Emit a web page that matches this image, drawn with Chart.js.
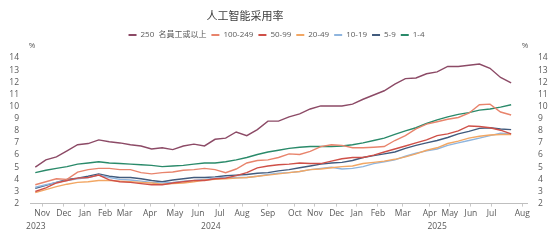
<!DOCTYPE html>
<html>
<head>
<meta charset="utf-8">
<script src="https://cdn.jsdelivr.net/npm/chart.js@4.4.1/dist/chart.umd.min.js"></script>
<style>
  html, body { margin: 0; padding: 0; background: #fff; }
</style>
</head>
<body>
<canvas id="aiChart" width="553" height="243"></canvas>
<script>
/* ================= DATA ================= */
// survey periods, in weeks counted from the left edge of the axis
const surveyWeeks = [1, 3, 5, 7, 9, 11, 13, 15, 17, 19, 21, 23, 25, 27, 29, 31, 33, 35, 37, 39,
  41, 43, 45, 47, 49, 51, 53, 55, 57, 59, 61, 63, 65, 67, 69, 71, 73, 75, 77, 79, 81, 83, 85, 87, 89, 91];

const monthLabels = ["Nov", "Dec", "Jan", "Feb", "Mar", "Apr", "May", "Jun", "Jul", "Aug", "Sep",
  "Oct", "Nov", "Dec", "Jan", "Feb", "Mar", "Apr", "May", "Jun", "Jul", "Aug"];
const monthWeeks = [2.3, 6.4, 10.4, 14.2, 17.9, 22.7, 27.4, 31.8, 35.9, 40.1, 45.0,
  50.1, 53.9, 58.0, 61.8, 65.8, 70.5, 75.6, 79.4, 83.4, 87.3, 93.1];

const yearLabels = ["2023", "2024", "2025"];
const yearWeeks = [1.1, 34.2, 77];

const seriesNames = ["250  名員工或以上", "100-249", "50-99", "20-49", "10-19", "5-9", "1-4"];

const size250 = [5.0, 5.6, 5.85, 6.35, 6.85, 6.95, 7.25, 7.1, 7.0, 6.85, 6.75, 6.5, 6.6, 6.45, 6.75, 6.9,
  6.75, 7.3, 7.4, 7.9, 7.6, 8.1, 8.8, 8.8, 9.15, 9.4, 9.8, 10.05, 10.05, 10.05, 10.2, 10.6, 10.95,
  11.3, 11.85, 12.3, 12.35, 12.7, 12.85, 13.3, 13.3, 13.4, 13.5, 13.15, 12.4, 11.95];
const size100 = [3.55, 3.8, 4.05, 4.0, 4.6, 4.8, 4.9, 4.9, 4.8, 4.8, 4.55, 4.45, 4.55, 4.6, 4.75, 4.8,
  4.9, 4.8, 4.55, 4.85, 5.35, 5.55, 5.6, 5.8, 6.1, 6.05, 6.3, 6.7, 6.85, 6.8, 6.6, 6.6, 6.65, 6.7,
  7.2, 7.6, 8.15, 8.55, 8.75, 8.95, 9.1, 9.45, 10.15, 10.2, 9.55, 9.3];
const size50 = [3.0, 3.3, 3.7, 3.9, 4.1, 4.15, 4.35, 3.95, 3.8, 3.75, 3.65, 3.55, 3.55, 3.7, 3.8, 3.9,
  3.9, 4.05, 4.1, 4.3, 4.55, 4.95, 5.1, 5.2, 5.25, 5.35, 5.3, 5.3, 5.5, 5.7, 5.8, 5.8, 6.0, 6.25,
  6.5, 6.75, 7.0, 7.25, 7.6, 7.75, 8.0, 8.4, 8.35, 8.25, 8.05, 7.75];
const size20 = [2.9, 3.15, 3.4, 3.6, 3.75, 3.8, 3.9, 3.9, 3.85, 3.8, 3.75, 3.7, 3.6, 3.65, 3.7, 3.8,
  3.95, 4.0, 4.05, 4.1, 4.15, 4.25, 4.35, 4.45, 4.55, 4.65, 4.8, 4.85, 4.95, 5.05, 5.1, 5.3, 5.4, 5.5,
  5.65, 5.85, 6.1, 6.4, 6.6, 6.95, 7.15, 7.4, 7.55, 7.65, 7.7, 7.7];
const size10 = [3.35, 3.55, 3.75, 3.9, 4.05, 4.15, 4.35, 4.15, 4.0, 3.95, 3.85, 3.75, 3.7, 3.75, 3.85, 3.9,
  4.0, 4.1, 4.15, 4.15, 4.15, 4.25, 4.4, 4.5, 4.55, 4.65, 4.8, 4.9, 5.0, 4.85, 4.9, 5.05, 5.3, 5.45,
  5.6, 5.9, 6.15, 6.35, 6.5, 6.8, 7.0, 7.2, 7.4, 7.6, 7.8, 7.75];
const size5 = [3.25, 3.5, 3.75, 4.0, 4.1, 4.25, 4.45, 4.25, 4.15, 4.15, 4.05, 3.9, 3.8, 3.95, 4.05, 4.15,
  4.15, 4.2, 4.3, 4.35, 4.4, 4.5, 4.55, 4.7, 4.8, 4.95, 5.1, 5.25, 5.35, 5.4, 5.55, 5.8, 5.95, 6.1,
  6.25, 6.55, 6.8, 7.0, 7.2, 7.45, 7.75, 7.95, 8.2, 8.25, 8.15, 8.1];
const size1 = [4.55, 4.75, 4.9, 5.05, 5.25, 5.35, 5.45, 5.35, 5.3, 5.25, 5.2, 5.15, 5.05, 5.1, 5.15, 5.25,
  5.35, 5.35, 5.45, 5.6, 5.8, 6.05, 6.25, 6.4, 6.55, 6.65, 6.7, 6.7, 6.7, 6.75, 6.85, 7.0, 7.2, 7.4,
  7.7, 8.0, 8.25, 8.6, 8.9, 9.15, 9.35, 9.5, 9.7, 9.8, 9.95, 10.15];

const yTicks = { min: 2, max: 14, step: 1 };

/* ================= STYLE ================= */
const colors = ["#8c4a66", "#e8846c", "#cf5048", "#f2a764", "#8fb5de", "#415b7d", "#2a8a6a"];
const textColor = "#595959";
const fontFamily = '"Open Sans", "Noto Sans CJK SC", sans-serif';
const weekSpan = { min: 0, max: 94 };

const allSeries = [size250, size100, size50, size20, size10, size5, size1];

const datasets = allSeries.map((vals, k) => ({
  label: seriesNames[k],
  data: vals.map((v, i) => ({ x: surveyWeeks[i], y: v })),
  borderColor: colors[k],
  backgroundColor: colors[k],
  borderWidth: 1.4,
  pointRadius: 0,
  tension: 0
}));

/* ================= EXTRA TEXT (title, % units) ================= */
const extraText = {
  id: "extraText",
  afterDraw(chart) {
    const { ctx, chartArea } = chart;
    ctx.save();
    ctx.fillStyle = "#404040";
    ctx.font = '11px "Noto Sans CJK SC", sans-serif';
    ctx.textAlign = "center";
    ctx.textBaseline = "middle";
    ctx.fillText("人工智能采用率", 245, 16);

    ctx.fillStyle = textColor;
    ctx.font = "8px " + fontFamily;
    ctx.fillText("%", chartArea.left + 2, chartArea.top - 12);
    ctx.fillText("%", chartArea.right - 2, chartArea.top - 12);
    ctx.restore();
  }
};

// extra room under the legend
const legendGap = {
  id: "legendGap",
  beforeInit(chart) {
    const fit = chart.legend.fit;
    chart.legend.fit = function () {
      fit.bind(chart.legend)();
      this.height += 9;
    };
  }
};

const tickFont = { family: fontFamily, size: 8.5 };

const yAxis = (position, width) => ({
  position,
  min: yTicks.min,
  max: yTicks.max,
  ticks: { stepSize: yTicks.step, autoSkip: false, color: textColor, font: tickFont, padding: 3 },
  grid: { display: false },
  border: { display: false },
  afterFit: s => { s.width = width; }
});

new Chart(document.getElementById("aiChart"), {
  type: "line",
  data: { datasets },
  plugins: [extraText, legendGap],
  options: {
    responsive: false,
    animation: false,
    layout: { padding: { top: 26, bottom: 10, left: 0, right: 0 } },
    plugins: {
      tooltip: { enabled: false },
      legend: {
        position: "top",
        labels: {
          boxWidth: 8,
          boxHeight: 2,
          padding: 5,
          color: textColor,
          font: { family: fontFamily, size: 8 },
          generateLabels(chart) {
            return Chart.defaults.plugins.legend.labels.generateLabels(chart)
              .map(item => ({ ...item, lineWidth: 0, fillStyle: item.strokeStyle }));
          }
        }
      }
    },
    scales: {
      x: {
        type: "linear",
        min: weekSpan.min,
        max: weekSpan.max,
        afterBuildTicks: axis => { axis.ticks = monthWeeks.map(v => ({ value: v })); },
        ticks: {
          autoSkip: false,
          maxRotation: 0,
          padding: 2,
          color: textColor,
          font: tickFont,
          callback: (v, i) => monthLabels[i]
        },
        grid: { drawOnChartArea: false, tickLength: 3, color: "#c8c8c8" },
        border: { color: "#bfbfbf" }
      },
      xYear: {
        type: "linear",
        position: "bottom",
        min: weekSpan.min,
        max: weekSpan.max,
        afterBuildTicks: axis => { axis.ticks = yearWeeks.map(v => ({ value: v })); },
        ticks: {
          autoSkip: false,
          maxRotation: 0,
          padding: 1,
          color: textColor,
          font: tickFont,
          callback: (v, i) => yearLabels[i]
        },
        grid: { display: false, drawTicks: false, tickLength: 0 },
        border: { display: false }
      },
      y: yAxis("left", 30),
      y2: yAxis("right", 26)
    }
  }
});
</script>
</body>
</html>
